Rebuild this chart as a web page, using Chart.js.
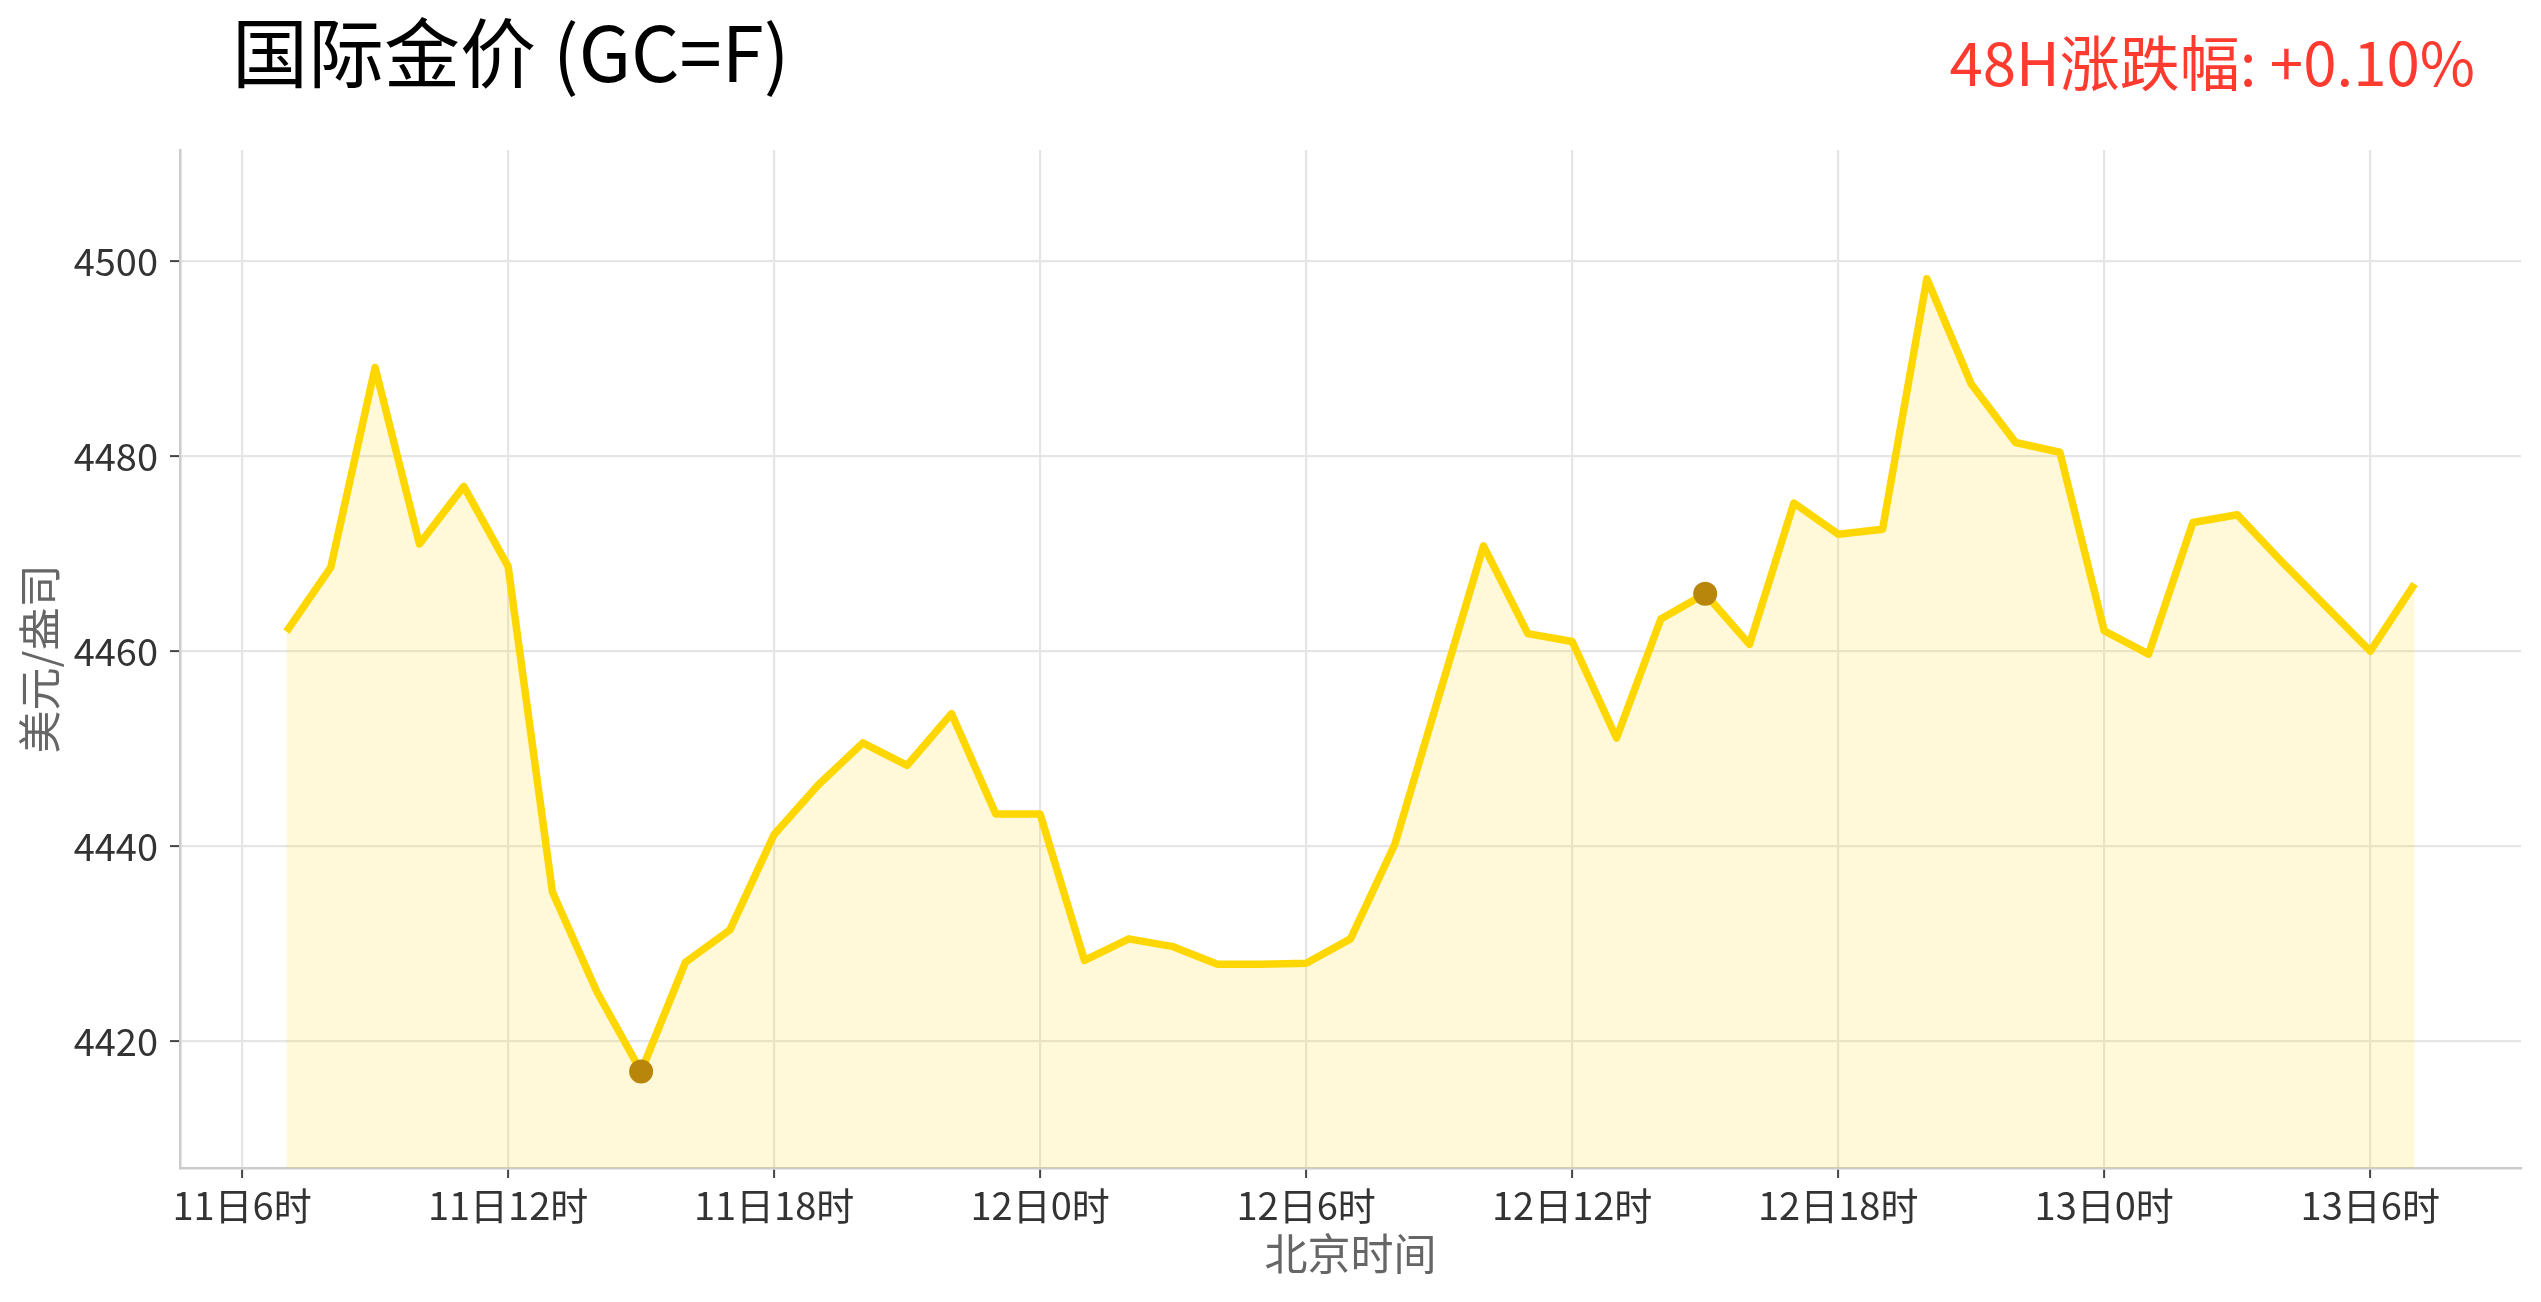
<!DOCTYPE html>
<html><head><meta charset="utf-8">
<script src="https://cdn.jsdelivr.net/npm/chart.js@4.4.1/dist/chart.umd.min.js"></script>
<style>
html,body{margin:0;padding:0;background:#fff;}
#wrap{position:relative;width:2541px;height:1302px;overflow:hidden;background:#fff;}
canvas{position:absolute;left:0;top:0;}
.t{position:absolute;font-family:"Noto Sans CJK SC";line-height:1;white-space:nowrap;}
#title{left:232px;top:11px;font-size:76px;color:#000;}
#chg{right:66px;top:30px;font-size:60px;color:#FF3B30;}
</style></head><body>
<div id="wrap">
<canvas id="c" width="2541" height="1302"></canvas>
<div class="t" id="title">国际金价 (GC=F)</div>
<div class="t" id="chg">48H涨跌幅: +0.10%</div>
</div>
<script>
// hourly series starting 11日7时 (hours counted from 11日0时)
const startHour = 7;
const prices = [
  4462.0, 4468.6, 4489.1, 4471.0, 4476.9, 4468.7, 4435.3, 4425.1, 4416.9, 4428.1,
  4431.4, 4441.2, 4446.3, 4450.6, 4448.3, 4453.6, 4443.3,
  4443.3, 4428.3, 4430.5, 4429.7, 4427.9, 4427.9, 4428.0, 4430.5, 4440.2, 4455.5,
  4470.8, 4461.8, 4461.0, 4451.1, 4463.3, 4465.9, 4460.7, 4475.2, 4472.0, 4472.5,
  4498.2, 4487.4, 4481.4, 4480.4,
  4462.1, 4459.7, 4473.2, 4474.0, 4469.2, 4464.6, 4460.0, 4466.9
];
const markerIndex = [8, 32];
const xTickHours = [6, 12, 18, 24, 30, 36, 42, 48, 54];
const xTickLabels = ["11日6时","11日12时","11日18时","12日0时","12日6时","12日12时","12日18时","13日0时","13日6时"];
const yTicks = [4420, 4440, 4460, 4480, 4500];
const xRange = [4.6, 57.4];
const yRange = [4407, 4511.4];

const FONT = '"Noto Sans CJK SC", "Noto Sans", sans-serif';

new Chart(document.getElementById('c'), {
  type: 'line',
  data: {
    datasets: [{
      data: prices.map((p, i) => ({x: startHour + i, y: p})),
      borderColor: '#FFD700',
      borderWidth: 7.5,
      backgroundColor: 'rgba(255,215,0,0.15)',
      fill: 'start',
      tension: 0,
      borderJoinStyle: 'round',
      borderCapStyle: 'butt',
      pointRadius: prices.map((p, i) => markerIndex.includes(i) ? 12 : 0),
      pointBackgroundColor: '#B8860B',
      pointBorderWidth: 0,
      pointHoverRadius: 0
    }]
  },
  options: {
    responsive: false,
    animation: false,
    devicePixelRatio: 1,
    layout: {padding: {left: 0, top: 150, right: 20, bottom: 0}},
    plugins: {legend: {display: false}, tooltip: {enabled: false}},
    scales: {
      x: {
        type: 'linear', min: xRange[0], max: xRange[1],
        afterBuildTicks: s => { s.ticks = xTickHours.map(v => ({value: v})); },
        afterFit: s => { s.height = 134; },
        ticks: {
          autoSkip: false, maxRotation: 0, minRotation: 0,
          callback: v => xTickLabels[xTickHours.indexOf(v)],
          font: {family: FONT, size: 38}, color: '#333', padding: 5
        },
        grid: {color: '#e5e5e5', lineWidth: 2.2, tickLength: 10, tickColor: '#444', tickWidth: 2},
        border: {display: true, color: '#cccccc', width: 2.5},
        title: {display: true, text: '北京时间', font: {family: FONT, size: 43}, color: '#666', padding: {top: 0, bottom: 23}}
      },
      y: {
        min: yRange[0], max: yRange[1],
        afterBuildTicks: s => { s.ticks = yTicks.map(v => ({value: v})); },
        afterFit: s => { s.width = 180; },
        ticks: {font: {family: FONT, size: 38}, color: '#333', padding: 12, callback: v => String(v)},
        grid: {color: '#e5e5e5', lineWidth: 2.2, tickLength: 10, tickColor: '#444', tickWidth: 2},
        border: {display: true, color: '#cccccc', width: 2.5},
        title: {display: true, text: '美元/盎司', font: {family: FONT, size: 43}, color: '#666', padding: {top: 14, bottom: 0}}
      }
    }
  }
});
</script>
</body></html>
